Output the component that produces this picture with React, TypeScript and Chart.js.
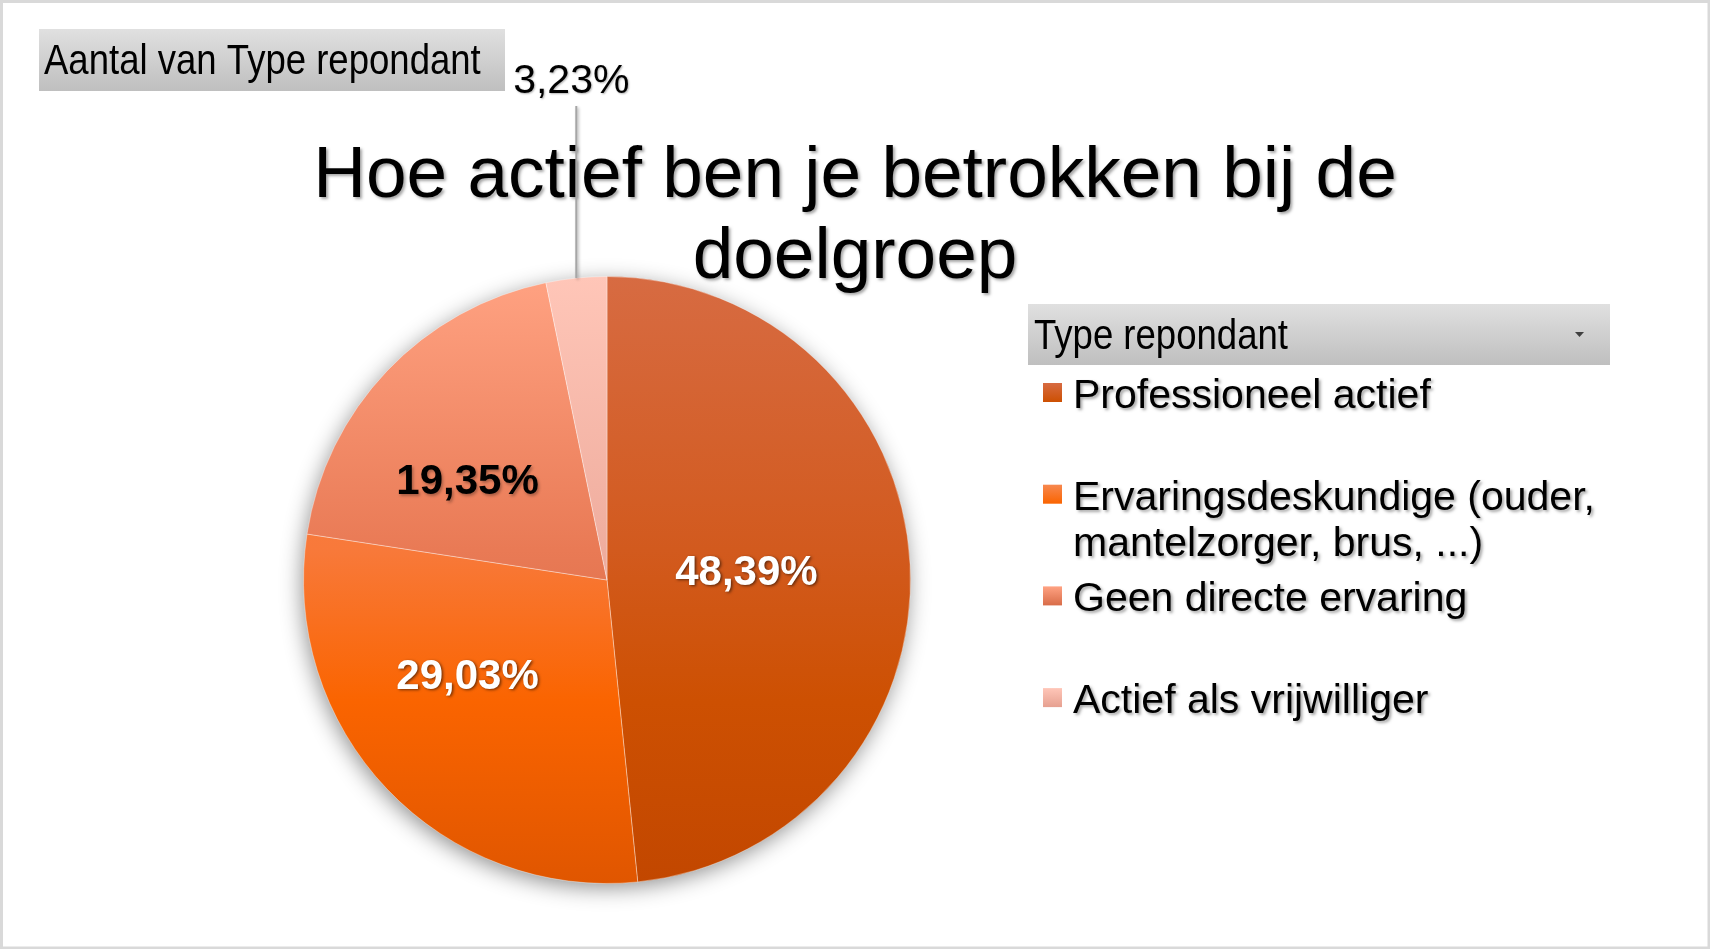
import React, { useEffect, useRef } from "react";
import { Chart, registerables } from "chart.js";

Chart.register(...registerables);

// ---- data ----
const categories = [
  "Professioneel actief",
  "Ervaringsdeskundige (ouder, mantelzorger, brus, ...)",
  "Geen directe ervaring",
  "Actief als vrijwilliger",
];
const counts = [15, 9, 6, 1];
const titleLines = ["Hoe actief ben je betrokken bij de", "doelgroep"];
const fieldButtonText = "Aantal van Type repondant";
const legendTitleText = "Type repondant";

// gradient colours per slice (top -> bottom)
const sliceGradients = [
  ["#d76b42", "#d25a1e", "#cd5002", "#c24700"],
  ["#f7884f", "#f8793a", "#fa6400", "#e05600"],
  ["#ffa282", "#e97a55", "#d86c48", "#c86040"],
  ["#ffc6b8", "#efad9e", "#e6a090", "#d89080"],
];
const gradientStops = [0, 0.45, 0.7, 1];
const labelColors = ["#ffffff", "#ffffff", "#000000", "#000000"];

const FONT = '"Liberation Sans", Arial, sans-serif';

function pctText(v: number, total: number) {
  return ((v / total) * 100).toFixed(2).replace(".", ",") + "%";
}

function grayBox(ctx: CanvasRenderingContext2D, x: number, y: number, w: number, h: number) {
  const g = ctx.createLinearGradient(0, y, 0, y + h);
  g.addColorStop(0, "#e0e0e0");
  g.addColorStop(1, "#bfbfbf");
  ctx.fillStyle = g;
  ctx.fillRect(x, y, w, h);
}

function condensedText(ctx: CanvasRenderingContext2D, text: string, x: number, y: number, size: number, sx: number) {
  ctx.save();
  ctx.translate(x, y);
  ctx.scale(sx, 1);
  ctx.font = `${size}px ${FONT}`;
  ctx.fillStyle = "#000";
  ctx.textAlign = "left";
  ctx.textBaseline = "alphabetic";
  ctx.fillText(text, 0, 0);
  ctx.restore();
}

function wrap(ctx: CanvasRenderingContext2D, text: string, maxW: number) {
  const words = text.split(" ");
  const lines: string[] = [];
  let cur = "";
  for (const w of words) {
    const t = cur ? cur + " " + w : w;
    if (ctx.measureText(t).width > maxW && cur) {
      lines.push(cur);
      cur = w;
    } else cur = t;
  }
  if (cur) lines.push(cur);
  return lines;
}

const decorPlugin = {
  id: "decor",
  beforeDraw(chart: any) {
    const ctx: CanvasRenderingContext2D = chart.ctx;
    const W = chart.width;
    const H = chart.height;
    ctx.save();
    ctx.fillStyle = "#ffffff";
    ctx.fillRect(0, 0, W, H);
    ctx.strokeStyle = "#d9d9d9";
    ctx.lineWidth = 3;
    ctx.strokeRect(1.5, 1.5, W - 2.5, H - 2.5);

    // field button
    grayBox(ctx, 39, 29, 466, 62);
    condensedText(ctx, fieldButtonText, 44, 74, 42, 0.87);

    // title
    ctx.font = `73px ${FONT}`;
    ctx.textAlign = "center";
    ctx.textBaseline = "alphabetic";
    ctx.shadowColor = "rgba(0,0,0,0.35)";
    ctx.shadowBlur = 3;
    ctx.shadowOffsetX = 2;
    ctx.shadowOffsetY = 2;
    ctx.fillStyle = "#000";
    ctx.fillText(titleLines[0], 855, 197);
    ctx.fillText(titleLines[1], 855, 278);
    ctx.shadowColor = "transparent";

    // legend header
    grayBox(ctx, 1028, 304, 582, 61);
    condensedText(ctx, legendTitleText, 1034, 349, 42, 0.87);
    ctx.fillStyle = "#404040";
    ctx.beginPath();
    ctx.moveTo(1575, 332);
    ctx.lineTo(1584, 332);
    ctx.lineTo(1579.5, 337);
    ctx.closePath();
    ctx.fill();

    // legend items
    ctx.font = `41px ${FONT}`;
    ctx.textAlign = "left";
    categories.forEach((cat, i) => {
      const y = 408 + i * 101.7;
      const cols = sliceGradients[i];
      const sq = ctx.createLinearGradient(0, y - 25, 0, y - 6);
      sq.addColorStop(0, cols[0]);
      sq.addColorStop(1, cols[2]);
      ctx.fillStyle = sq;
      ctx.fillRect(1043, y - 25, 19, 19);
      const lines = wrap(ctx, cat, 555);
      ctx.save();
      ctx.shadowColor = "rgba(0,0,0,0.35)";
      ctx.shadowBlur = 3;
      ctx.shadowOffsetX = 2;
      ctx.shadowOffsetY = 2;
      ctx.fillStyle = "#000";
      lines.forEach((ln, k) => ctx.fillText(ln, 1073, y + k * 46));
      ctx.restore();
    });
    ctx.restore();
  },
  beforeDatasetsDraw(chart: any) {
    const ctx: CanvasRenderingContext2D = chart.ctx;
    const arc = chart.getDatasetMeta(0).data[0];
    if (!arc) return;
    ctx.save();
    ctx.shadowColor = "rgba(0,0,0,0.45)";
    ctx.shadowBlur = 22;
    ctx.shadowOffsetX = -2;
    ctx.shadowOffsetY = 5;
    ctx.fillStyle = "#ffffff";
    ctx.beginPath();
    ctx.arc(arc.x, arc.y, arc.outerRadius - 1, 0, Math.PI * 2);
    ctx.fill();
    ctx.restore();
  },
  afterDatasetsDraw(chart: any) {
    const ctx: CanvasRenderingContext2D = chart.ctx;
    const meta = chart.getDatasetMeta(0);
    const total = counts.reduce((a, b) => a + b, 0);
    ctx.save();
    meta.data.forEach((arc: any, i: number) => {
      const v = counts[i];
      const txt = pctText(v, total);
      const mid = (arc.startAngle + arc.endAngle) / 2;
      const share = v / total;
      if (share < 0.05) {
        const ex = arc.x + arc.outerRadius * Math.cos(mid);
        const ey = arc.y + arc.outerRadius * Math.sin(mid);
        ctx.strokeStyle = "#a6a6a6";
        ctx.lineWidth = 2;
        ctx.beginPath();
        ctx.moveTo(ex, ey);
        ctx.lineTo(ex, 106);
        ctx.stroke();
        ctx.font = `41px ${FONT}`;
        ctx.textAlign = "center";
        ctx.textBaseline = "alphabetic";
        ctx.fillStyle = "#000";
        ctx.shadowColor = "rgba(0,0,0,0.3)";
        ctx.shadowBlur = 2;
        ctx.shadowOffsetX = 1;
        ctx.shadowOffsetY = 1;
        ctx.fillText(txt, ex - 5, 93);
        return;
      }
      let ang = mid;
      let f = 0.46;
      if (share <= 0.4) {
        // best-fit style: pull label slightly toward the horizontal
        ang = mid + (Math.PI - mid) * 0.2;
        f = 0.56;
      }
      const r = arc.outerRadius * f;
      const tx = arc.x + r * Math.cos(ang);
      const ty = arc.y + r * Math.sin(ang);
      ctx.font = `bold 42px ${FONT}`;
      ctx.textAlign = "center";
      ctx.textBaseline = "middle";
      ctx.fillStyle = labelColors[i];
      ctx.shadowColor = labelColors[i] === "#ffffff" ? "rgba(0,0,0,0.55)" : "rgba(0,0,0,0.3)";
      ctx.shadowBlur = 3;
      ctx.shadowOffsetX = 1.5;
      ctx.shadowOffsetY = 1.5;
      ctx.fillText(txt, tx, ty);
    });
    ctx.restore();
  },
};

export default function App() {
  const ref = useRef<HTMLCanvasElement | null>(null);
  useEffect(() => {
    if (!ref.current) return;
    const chart = new Chart(ref.current, {
      type: "pie",
      data: {
        labels: categories,
        datasets: [
          {
            data: counts,
            backgroundColor: (c: any) => {
              const area = c.chart.chartArea;
              const cols = sliceGradients[c.dataIndex] || sliceGradients[0];
              if (!area) return cols[2];
              const g = c.chart.ctx.createLinearGradient(0, area.top, 0, area.bottom);
              cols.forEach((col: string, k: number) => g.addColorStop(gradientStops[k], col));
              return g;
            },
            borderColor: "rgba(255,255,255,0.35)",
            borderWidth: 1,
          },
        ],
      },
      options: {
        responsive: false,
        animation: false,
        devicePixelRatio: 1,
        layout: { padding: { left: 303, right: 799, top: 276, bottom: 65 } },
        plugins: {
          legend: { display: false },
          title: { display: false },
          tooltip: { enabled: false },
        },
      },
      plugins: [decorPlugin],
    });
    return () => chart.destroy();
  }, []);
  return (
    <div style={{ position: "fixed", left: 0, top: 0, width: 1710, height: 949, background: "#fff" }}>
      <canvas ref={ref} width={1710} height={949} style={{ display: "block" }} />
    </div>
  );
}
